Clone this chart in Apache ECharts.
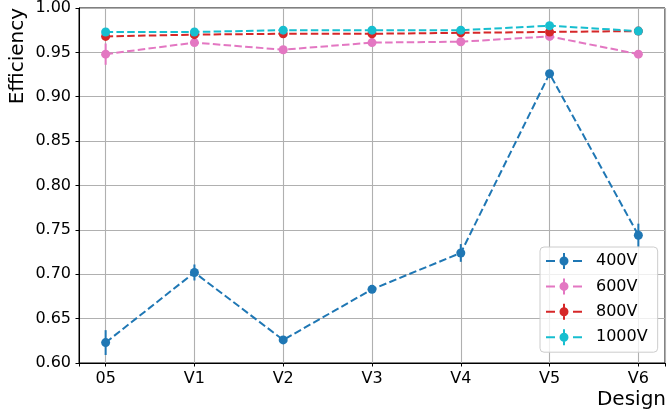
<!DOCTYPE html>
<html>
<head>
<meta charset="utf-8">
<script src="https://cdn.jsdelivr.net/npm/echarts@6/dist/echarts.min.js"></script>
<style>
  html, body { margin: 0; padding: 0; background: #fff; }
  #main { width: 668px; height: 419px; }
</style>
</head>
<body>
<div id="main"></div>
<script>
var designs = ['05', 'V1', 'V2', 'V3', 'V4', 'V5', 'V6'];
var seriesNames = ['400V', '600V', '800V', '1000V'];
var colors = ['#1f77b4', '#e377c2', '#d62728', '#17becf'];

var eff400 = [0.623, 0.702, 0.626, 0.683, 0.724, 0.926, 0.744];
var err400 = [0.014, 0.009, 0.003, 0.003, 0.010, 0.003, 0.013];
var eff600 = [0.948, 0.961, 0.953, 0.961, 0.962, 0.968, 0.948];
var err600 = [0.012, 0.003, 0.002, 0.002, 0.002, 0.002, 0.003];
var eff800 = [0.968, 0.970, 0.971, 0.971, 0.972, 0.973, 0.974];
var err800 = [0.002, 0.002, 0.002, 0.002, 0.002, 0.002, 0.002];
var eff1000 = [0.973, 0.973, 0.975, 0.975, 0.975, 0.980, 0.974];
var err1000 = [0.002, 0.002, 0.002, 0.002, 0.002, 0.002, 0.002];

var yTicks = ['0.60', '0.65', '0.70', '0.75', '0.80', '0.85', '0.90', '0.95', '1.00'];

var allEff = [eff400, eff600, eff800, eff1000];
var allErr = [err400, err600, err800, err1000];

// legend handle: dash, marker with error bar, dash
var legendIcon = 'path://M0,7 L9,7 L9,9 L0,9 Z M27,7 L36,7 L36,9 L27,9 Z ' +
    'M17,0 L19,0 L19,16 L17,16 Z M13.5,8 A4.5,4.5 0 1 1 22.5,8 A4.5,4.5 0 1 1 13.5,8 Z';

var font = 'DejaVu Sans';
var chart = echarts.init(document.getElementById('main'));

var series = [];
seriesNames.forEach(function (name, k) {
    var col = colors[k];
    series.push({
        name: name + ' err',
        type: 'custom',
        data: designs.map(function (d, i) { return [i, allEff[k][i], allErr[k][i]]; }),
        encode: { x: 0, y: 1 },
        renderItem: function (params, api) {
            var x = api.value(0), y = api.value(1), e = api.value(2);
            var p1 = api.coord([x, y - e]);
            var p2 = api.coord([x, y + e]);
            return {
                type: 'line',
                shape: { x1: p1[0], y1: p1[1], x2: p2[0], y2: p2[1] },
                style: { stroke: col, lineWidth: 2 }
            };
        },
        silent: true
    });
    series.push({
        name: name,
        type: 'line',
        data: designs.map(function (d, i) { return [i, allEff[k][i]]; }),
        symbol: 'circle',
        symbolSize: 9,
        showSymbol: true,
        color: col,
        itemStyle: { color: col },
        lineStyle: { color: col, width: 2, type: [7.5, 3.3] }
    });
});

var option = {
    animation: false,
    textStyle: { fontFamily: font },
    grid: {
        left: 79, right: 2, top: 8, bottom: 56,
        show: true, borderColor: '#000', borderWidth: 1,
        backgroundColor: 'transparent'
    },
    xAxis: {
        type: 'value',
        min: -0.3,
        max: 6.3,
        axisLine: { onZero: false, lineStyle: { color: '#000', width: 1 } },
        axisTick: { show: true, length: 3.5, lineStyle: { color: '#000', width: 1 } },
        axisLabel: {
            color: '#000', fontSize: 16, fontFamily: font, margin: 8,
            formatter: function (v) {
                return Number.isInteger(v) ? designs[v] : '';
            }
        },
        splitLine: { show: true, lineStyle: { color: '#b0b0b0', width: 1.1 } }
    },
    yAxis: {
        type: 'value',
        min: 0.6,
        max: 1.0,
        interval: 0.05,
        axisLine: { show: true, onZero: false, lineStyle: { color: '#000', width: 1 } },
        axisTick: { show: true, length: 3.5, lineStyle: { color: '#000', width: 1 } },
        axisLabel: {
            color: '#000', fontSize: 16, fontFamily: font, margin: 8,
            formatter: function (v) {
                return yTicks[Math.round((v - 0.6) / 0.05)];
            }
        },
        splitLine: { show: true, lineStyle: { color: '#b0b0b0', width: 1.1 } }
    },
    legend: {
        orient: 'vertical',
        left: 540,
        top: 247,
        data: seriesNames.map(function (n) { return { name: n, icon: legendIcon }; }),
        itemWidth: 36,
        itemHeight: 16,
        itemGap: 9.4,
        padding: [6, 10, 7, 6],
        backgroundColor: 'rgba(255,255,255,0.8)',
        borderColor: '#cccccc',
        borderWidth: 1,
        borderRadius: 4,
        textStyle: { color: '#000', fontSize: 16, fontFamily: font, padding: [0, 0, 0, 9] },
        selectedMode: false
    },
    graphic: [
        {
            type: 'text',
            x: 8, y: 8,
            rotation: Math.PI / 2,
            style: {
                text: 'Efficiency',
                font: '20px "DejaVu Sans"',
                fill: '#000',
                textAlign: 'right',
                textVerticalAlign: 'top'
            }
        },
        {
            type: 'text',
            right: 2,
            top: 390,
            style: {
                text: 'Design',
                font: '20px "DejaVu Sans"',
                fill: '#000'
            }
        }
    ],
    series: series
};

chart.setOption(option);
</script>
</body>
</html>
